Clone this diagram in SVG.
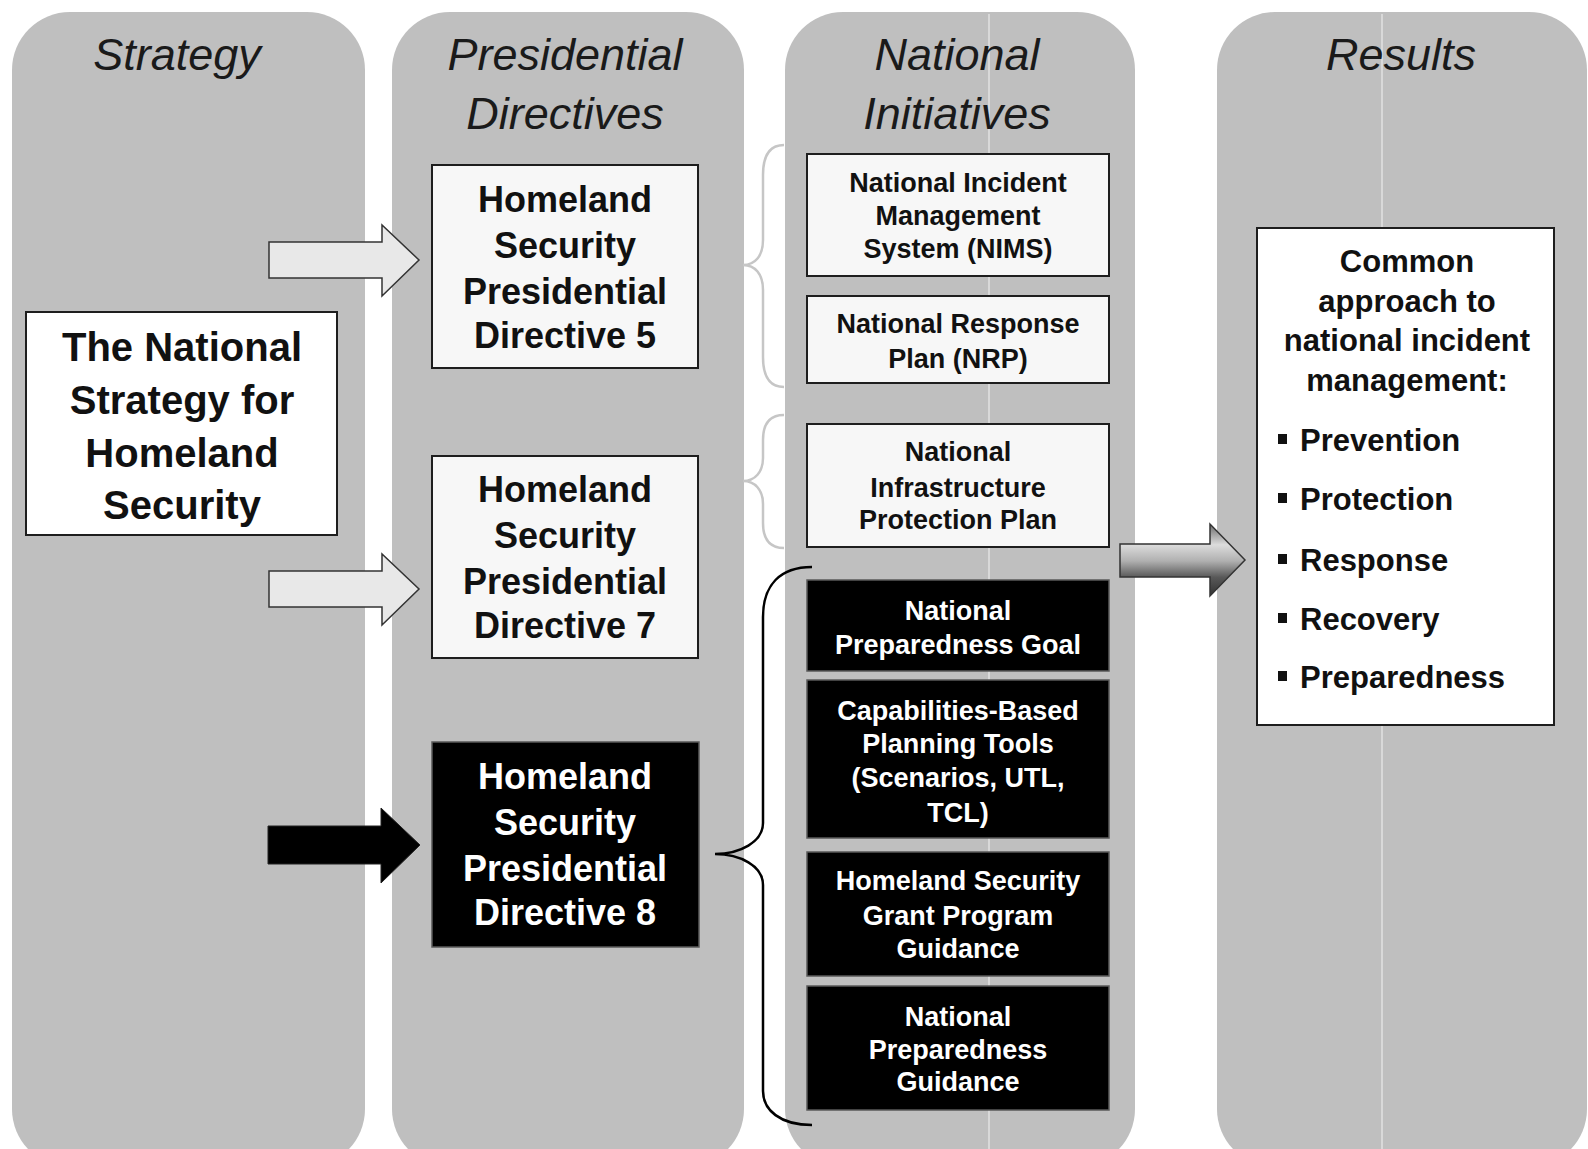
<svg xmlns="http://www.w3.org/2000/svg" width="1588" height="1149" viewBox="0 0 1588 1149">
<style>
.col{fill:#bfbfbf}
.vline{stroke:#d9d9d9;stroke-width:2;fill:none}
.title{font-family:"Liberation Sans",Arial,sans-serif;font-style:italic;font-size:45px;fill:#1a1a1a;text-anchor:middle}
.wbox{fill:#f7f7f7;stroke:#1e1e1e;stroke-width:2}
.pbox{fill:#ffffff;stroke:#1e1e1e;stroke-width:2}
.bbox{fill:#000000;stroke:#5a5a5a;stroke-width:1.5}
.big{font-family:"Liberation Sans",Arial,sans-serif;font-weight:bold;text-anchor:middle;fill:#111}
.f40{font-size:40px}
.f36{font-size:36px}
.f27{font-size:27px}
.f31{font-size:31px}
.inv{fill:#ffffff}
.lt{font-family:"Liberation Sans",Arial,sans-serif;font-weight:bold;font-size:31px;fill:#111}
.arrowL{fill:#e8e8e8;stroke:#333;stroke-width:1.5}
.arrowB{fill:#000;stroke:#222;stroke-width:1}
.lbrace{fill:none;stroke:#c6c6c6;stroke-width:2.5}
.bbrace{fill:none;stroke:#000;stroke-width:2.5}
</style>
<defs>
<linearGradient id="gArrow" gradientUnits="userSpaceOnUse" x1="0" y1="524" x2="0" y2="598">
<stop offset="0" stop-color="#6a6a6a"/>
<stop offset="0.28" stop-color="#dcdcdc"/>
<stop offset="0.5" stop-color="#b0b0b0"/>
<stop offset="0.72" stop-color="#585858"/>
<stop offset="1" stop-color="#2e2e2e"/>
</linearGradient>
</defs>
<rect width="1588" height="1149" fill="#ffffff"/>

<g id="columns">
<rect class="col" x="12" y="12" width="353" height="1155" rx="58" ry="58"/>
<rect class="col" x="392" y="12" width="352" height="1155" rx="58" ry="58"/>
<rect class="col" x="785" y="12" width="350" height="1155" rx="58" ry="58"/>
<rect class="col" x="1217" y="12" width="370" height="1155" rx="58" ry="58"/>
<line class="vline" x1="989" y1="14" x2="989" y2="1149"/>
<line class="vline" x1="1382" y1="14" x2="1382" y2="1149"/>
<text class="title" x="177" y="70">Strategy</text>
<text class="title" x="565" y="70">Presidential</text>
<text class="title" x="565" y="129">Directives</text>
<text class="title" x="957" y="70">National</text>
<text class="title" x="957" y="129">Initiatives</text>
<text class="title" x="1401" y="70">Results</text>
</g>

<g id="connectors">
<polygon class="arrowL" points="269,242 382,242 382,225 419,260 382,296 382,278 269,278"/>
<polygon class="arrowL" points="269,571 382,571 382,554 419,589 382,625 382,607 269,607"/>
<polygon class="arrowB" points="268,826 381,826 381,808 420,845 381,883 381,864 268,864"/>
<polygon fill="url(#gArrow)" stroke="#333" stroke-width="1.5" points="1120,544 1210,544 1210,524 1245,560 1210,596 1210,577 1120,577"/>
<path class="lbrace" d="M 784 145 C 770 145, 763 155, 763 175 L 763 240 C 763 256, 755 265, 743 265 C 755 265, 763 274, 763 290 L 763 357 C 763 377, 770 387, 784 387"/>
<path class="lbrace" d="M 784 415 C 770 415, 763 423, 763 440 L 763 458 C 763 472, 755 481, 743 481 C 755 481, 763 490, 763 504 L 763 523 C 763 540, 770 548, 784 548"/>
<path class="bbrace" d="M 812 567 C 780 567, 763 585, 763 617 L 763 823 C 763 842, 740 854, 715 854 C 740 854, 763 866, 763 885 L 763 1091 C 763 1110, 780 1125, 812 1125"/>
</g>

<g id="strategy">
<rect class="pbox" x="26" y="312" width="311" height="223"/>
<text class="big f40" x="182" y="361">The National</text>
<text class="big f40" x="182" y="414">Strategy for</text>
<text class="big f40" x="182" y="467">Homeland</text>
<text class="big f40" x="182" y="519">Security</text>
</g>

<g id="hspd5">
<rect class="wbox" x="432" y="165" width="266" height="203"/>
<text class="big f36" x="565" y="212">Homeland</text>
<text class="big f36" x="565" y="258">Security</text>
<text class="big f36" x="565" y="304">Presidential</text>
<text class="big f36" x="565" y="348">Directive 5</text>
</g>

<g id="hspd7">
<rect class="wbox" x="432" y="456" width="266" height="202"/>
<text class="big f36" x="565" y="502">Homeland</text>
<text class="big f36" x="565" y="548">Security</text>
<text class="big f36" x="565" y="594">Presidential</text>
<text class="big f36" x="565" y="638">Directive 7</text>
</g>

<g id="hspd8">
<rect class="bbox" x="432" y="742" width="267" height="205"/>
<text class="big f36 inv" x="565" y="789">Homeland</text>
<text class="big f36 inv" x="565" y="835">Security</text>
<text class="big f36 inv" x="565" y="881">Presidential</text>
<text class="big f36 inv" x="565" y="925">Directive 8</text>
</g>

<g id="nims">
<rect class="wbox" x="807" y="154" width="302" height="122"/>
<text class="big f27" x="958" y="192">National Incident</text>
<text class="big f27" x="958" y="225">Management</text>
<text class="big f27" x="958" y="258">System (NIMS)</text>
</g>

<g id="nrp">
<rect class="wbox" x="807" y="296" width="302" height="87"/>
<text class="big f27" x="958" y="333">National Response</text>
<text class="big f27" x="958" y="368">Plan (NRP)</text>
</g>

<g id="nipp">
<rect class="wbox" x="807" y="424" width="302" height="123"/>
<text class="big f27" x="958" y="461">National</text>
<text class="big f27" x="958" y="497">Infrastructure</text>
<text class="big f27" x="958" y="529">Protection Plan</text>
</g>

<g id="npg">
<rect class="bbox" x="807" y="580" width="302" height="91"/>
<text class="big f27 inv" x="958" y="620">National</text>
<text class="big f27 inv" x="958" y="654">Preparedness Goal</text>
</g>

<g id="cbpt">
<rect class="bbox" x="807" y="680" width="302" height="158"/>
<text class="big f27 inv" x="958" y="720">Capabilities-Based</text>
<text class="big f27 inv" x="958" y="753">Planning Tools</text>
<text class="big f27 inv" x="958" y="787">(Scenarios, UTL,</text>
<text class="big f27 inv" x="958" y="822">TCL)</text>
</g>

<g id="hsgpg">
<rect class="bbox" x="807" y="852" width="302" height="124"/>
<text class="big f27 inv" x="958" y="890">Homeland Security</text>
<text class="big f27 inv" x="958" y="925">Grant Program</text>
<text class="big f27 inv" x="958" y="958">Guidance</text>
</g>

<g id="npguid">
<rect class="bbox" x="807" y="986" width="302" height="124"/>
<text class="big f27 inv" x="958" y="1026">National</text>
<text class="big f27 inv" x="958" y="1059">Preparedness</text>
<text class="big f27 inv" x="958" y="1091">Guidance</text>
</g>

<g id="results">
<rect class="pbox" x="1257" y="228" width="297" height="497"/>
<text class="big f31" x="1407" y="272">Common</text>
<text class="big f31" x="1407" y="312">approach to</text>
<text class="big f31" x="1407" y="351">national incident</text>
<text class="big f31" x="1407" y="391">management:</text>
<rect x="1278" y="434" width="9" height="10" fill="#111"/>
<text class="lt" x="1300" y="451">Prevention</text>
<rect x="1278" y="493" width="9" height="10" fill="#111"/>
<text class="lt" x="1300" y="510">Protection</text>
<rect x="1278" y="554" width="9" height="10" fill="#111"/>
<text class="lt" x="1300" y="571">Response</text>
<rect x="1278" y="613" width="9" height="10" fill="#111"/>
<text class="lt" x="1300" y="630">Recovery</text>
<rect x="1278" y="671" width="9" height="10" fill="#111"/>
<text class="lt" x="1300" y="688">Preparedness</text>
</g>
</svg>
